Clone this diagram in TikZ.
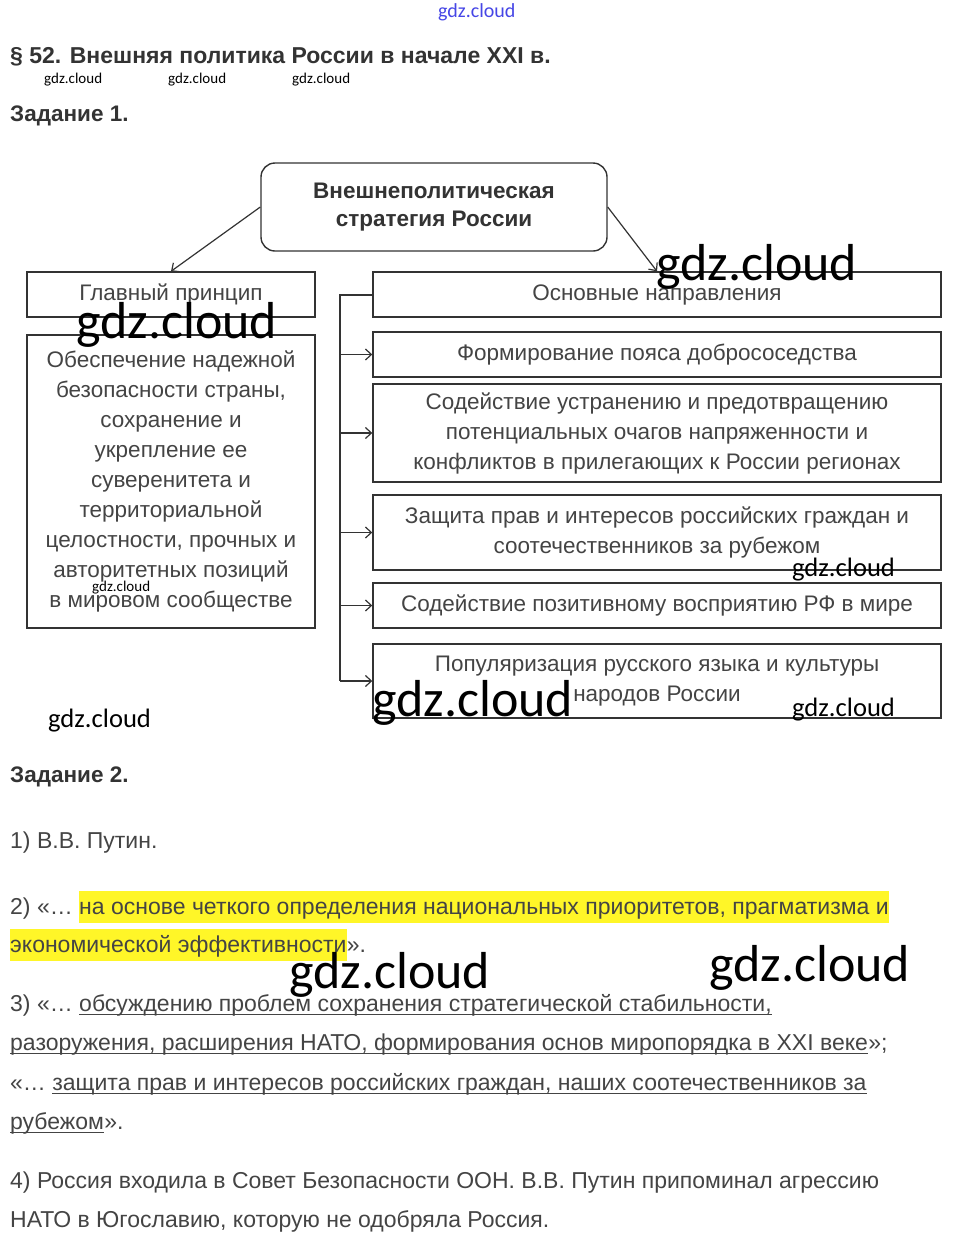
\documentclass[tikz,border=0pt]{standalone}
\usepackage{fontspec}
\setmainfont{Liberation Sans}
\newfontfamily\wmfont{Carlito}
\usepackage{tikz}
\usetikzlibrary{arrows.meta,positioning}
\definecolor{ink}{RGB}{51,51,51}
\definecolor{soft}{RGB}{68,68,68}
\definecolor{marker}{RGB}{255,246,40}
\definecolor{wmblue}{RGB}{70,70,230}
\tikzstyle{headbox} = [draw=ink, line width=1.4pt, rounded corners=14pt, text=ink, align=center, font=\bfseries\fontsize{22.5}{28}\selectfont, minimum width=346pt, minimum height=88pt]
\tikzstyle{itembox} = [draw=ink, line width=1.4pt, text=soft, align=center, font=\fontsize{22.5}{30}\selectfont, minimum width=568pt, inner sep=0pt]
\tikzstyle{leftbox} = [draw=ink, line width=1.4pt, text=soft, align=center, font=\fontsize{22.5}{30}\selectfont, minimum width=288pt, inner sep=0pt]
\tikzstyle{heading} = [anchor=base west, inner sep=0pt, text=ink, font=\bfseries\fontsize{22.5}{26}\selectfont]
\tikzstyle{bodyline} = [anchor=base west, inner sep=0pt, text=soft, font=\fontsize{23}{26}\selectfont]
\tikzstyle{hl} = [bodyline, fill=marker, inner ysep=3pt, text height=20pt, text depth=6pt]
\tikzstyle{uline} = [draw=soft, line width=0.9pt]
\tikzstyle{tedge} = [draw=ink, line width=1.2pt, >={Straight Barb[length=6pt,width=11pt]}, ->]
\tikzstyle{spine} = [draw=ink, line width=2pt]
\tikzstyle{wmbig} = [anchor=base west, inner sep=0pt, text=black, font=\wmfont\fontsize{52}{52}\selectfont]
\tikzstyle{wmmid} = [anchor=base west, inner sep=0pt, text=black, font=\wmfont\fontsize{26.6}{27}\selectfont]
\tikzstyle{wmsmall} = [anchor=base west, inner sep=0pt, text=black, font=\wmfont\fontsize{15}{15}\selectfont]

\begin{document}
\begin{tikzpicture}[x=1pt, y=-1pt]
\useasboundingbox[fill=white] (0,0) rectangle (953,1248);

% headings =============================
\node[anchor=base west, inner sep=0pt, text=wmblue, font=\wmfont\fontsize{20}{20}\selectfont] (wmtop) at (438,17) {gdz.cloud};
\node[heading, font=\bfseries\fontsize{23}{26}\selectfont] (title) at (10,63) {§ 52. Внешняя политика России в начале XXI в.};
\node[heading] (task1) at (10,121) {Задание 1.};

% scheme =============================
\node[headbox] (strat) at (434,207) {Внешнеполитическая\\стратегия России};
\node[leftbox, minimum height=45pt] (princ) at (171,294.5) {Главный принцип};
\node[leftbox, minimum height=293pt] (secur) at (171,481.5) {Обеспечение надежной\\безопасности страны,\\сохранение и\\укрепление ее\\суверенитета и\\территориальной\\целостности, прочных и\\авторитетных позиций\\в мировом сообществе};
\node[itembox, minimum height=45pt] (main) at (657,294.5) {Основные направления};
\node[itembox, minimum height=45pt] (belt) at (657,354.5) {Формирование пояса добрососедства};
\node[itembox, minimum height=98pt] (confl) at (657,433) {Содействие устранению и предотвращению\\потенциальных очагов напряженности и\\конфликтов в прилегающих к России регионах};
\node[itembox, minimum height=75pt] (rights) at (657,532.5) {Защита прав и интересов российских граждан и\\соотечественников за рубежом};
\node[itembox, minimum height=45pt] (image) at (657,605.5) {Содействие позитивному восприятию РФ в мире};
\node[itembox, minimum height=74pt] (lang) at (657,681) {Популяризация русского языка и культуры\\народов России};

% edges
\path[tedge] (strat.west) -- (princ.north);
\path[tedge] (strat.east) -- (main.north);
\coordinate (bus) at (340,294.5);
\path[spine] (main.west) -- (bus) -- (bus |- lang.west);
\foreach \b in {belt,confl,rights,image,lang}
  \path[tedge] (bus |- \b.west) -- (\b.west);

% answers =============================
\node[heading] (task2) at (10,782) {Задание 2.};
\node[bodyline] (a1) at (10,848) {1) В.В. Путин.};

\node[bodyline] (a2) at (10,914) {2) «…};
\node[hl] (a2hl) at ([xshift=6pt]a2.base east) {на основе четкого определения национальных приоритетов, прагматизма и};
\node[hl] (a2hlb) at (10,952) {экономической эффективности};
\node[bodyline] (a2end) at (a2hlb.base east) {».};

\node[bodyline] (a3) at (10,1011) {3) «…};
\node[bodyline] (a3u) at ([xshift=6pt]a3.base east) {обсуждению проблем сохранения стратегической стабильности,};
\node[bodyline] (a3b) at (10,1050) {разоружения, расширения НАТО, формирования основ миропорядка в XXI веке};
\node[bodyline] (a3bend) at (a3b.base east) {»;};
\node[bodyline] (a3c) at (10,1090) {«…};
\node[bodyline] (a3cu) at ([xshift=6pt]a3c.base east) {защита прав и интересов российских граждан, наших соотечественников за};
\node[bodyline] (a3d) at (10,1129) {рубежом};
\node[bodyline] (a3dend) at (a3d.base east) {».};
\foreach \u in {a3u,a3b,a3cu,a3d}
  \path[uline] ([yshift=-3pt]\u.base west) -- ([yshift=-3pt]\u.base east);

\node[bodyline] (a4) at (10,1188) {4) Россия входила в Совет Безопасности ООН. В.В. Путин припоминал агрессию};
\node[bodyline] (a4b) at (10,1227) {НАТО в Югославию, которую не одобряла Россия.};

% watermarks =============================
\node[wmsmall] (wm1) at (44,83) {gdz.cloud};
\node[wmsmall] (wm2) at (168,83) {gdz.cloud};
\node[wmsmall] (wm3) at (292,83) {gdz.cloud};
\node[wmsmall] (wm4) at (92,591) {gdz.cloud};
\node[wmbig] (wm5) at (656,280) {gdz.cloud};
\node[wmbig] (wm6) at (76,338) {gdz.cloud};
\node[wmbig] (wm7) at (372,716) {gdz.cloud};
\node[wmbig] (wm8) at (289,988) {gdz.cloud};
\node[wmbig] (wm9) at (709,981) {gdz.cloud};
\node[wmmid] (wm10) at (792,576) {gdz.cloud};
\node[wmmid] (wm11) at (48,727) {gdz.cloud};
\node[wmmid] (wm12) at (792,716) {gdz.cloud};

\end{tikzpicture}
\end{document}
